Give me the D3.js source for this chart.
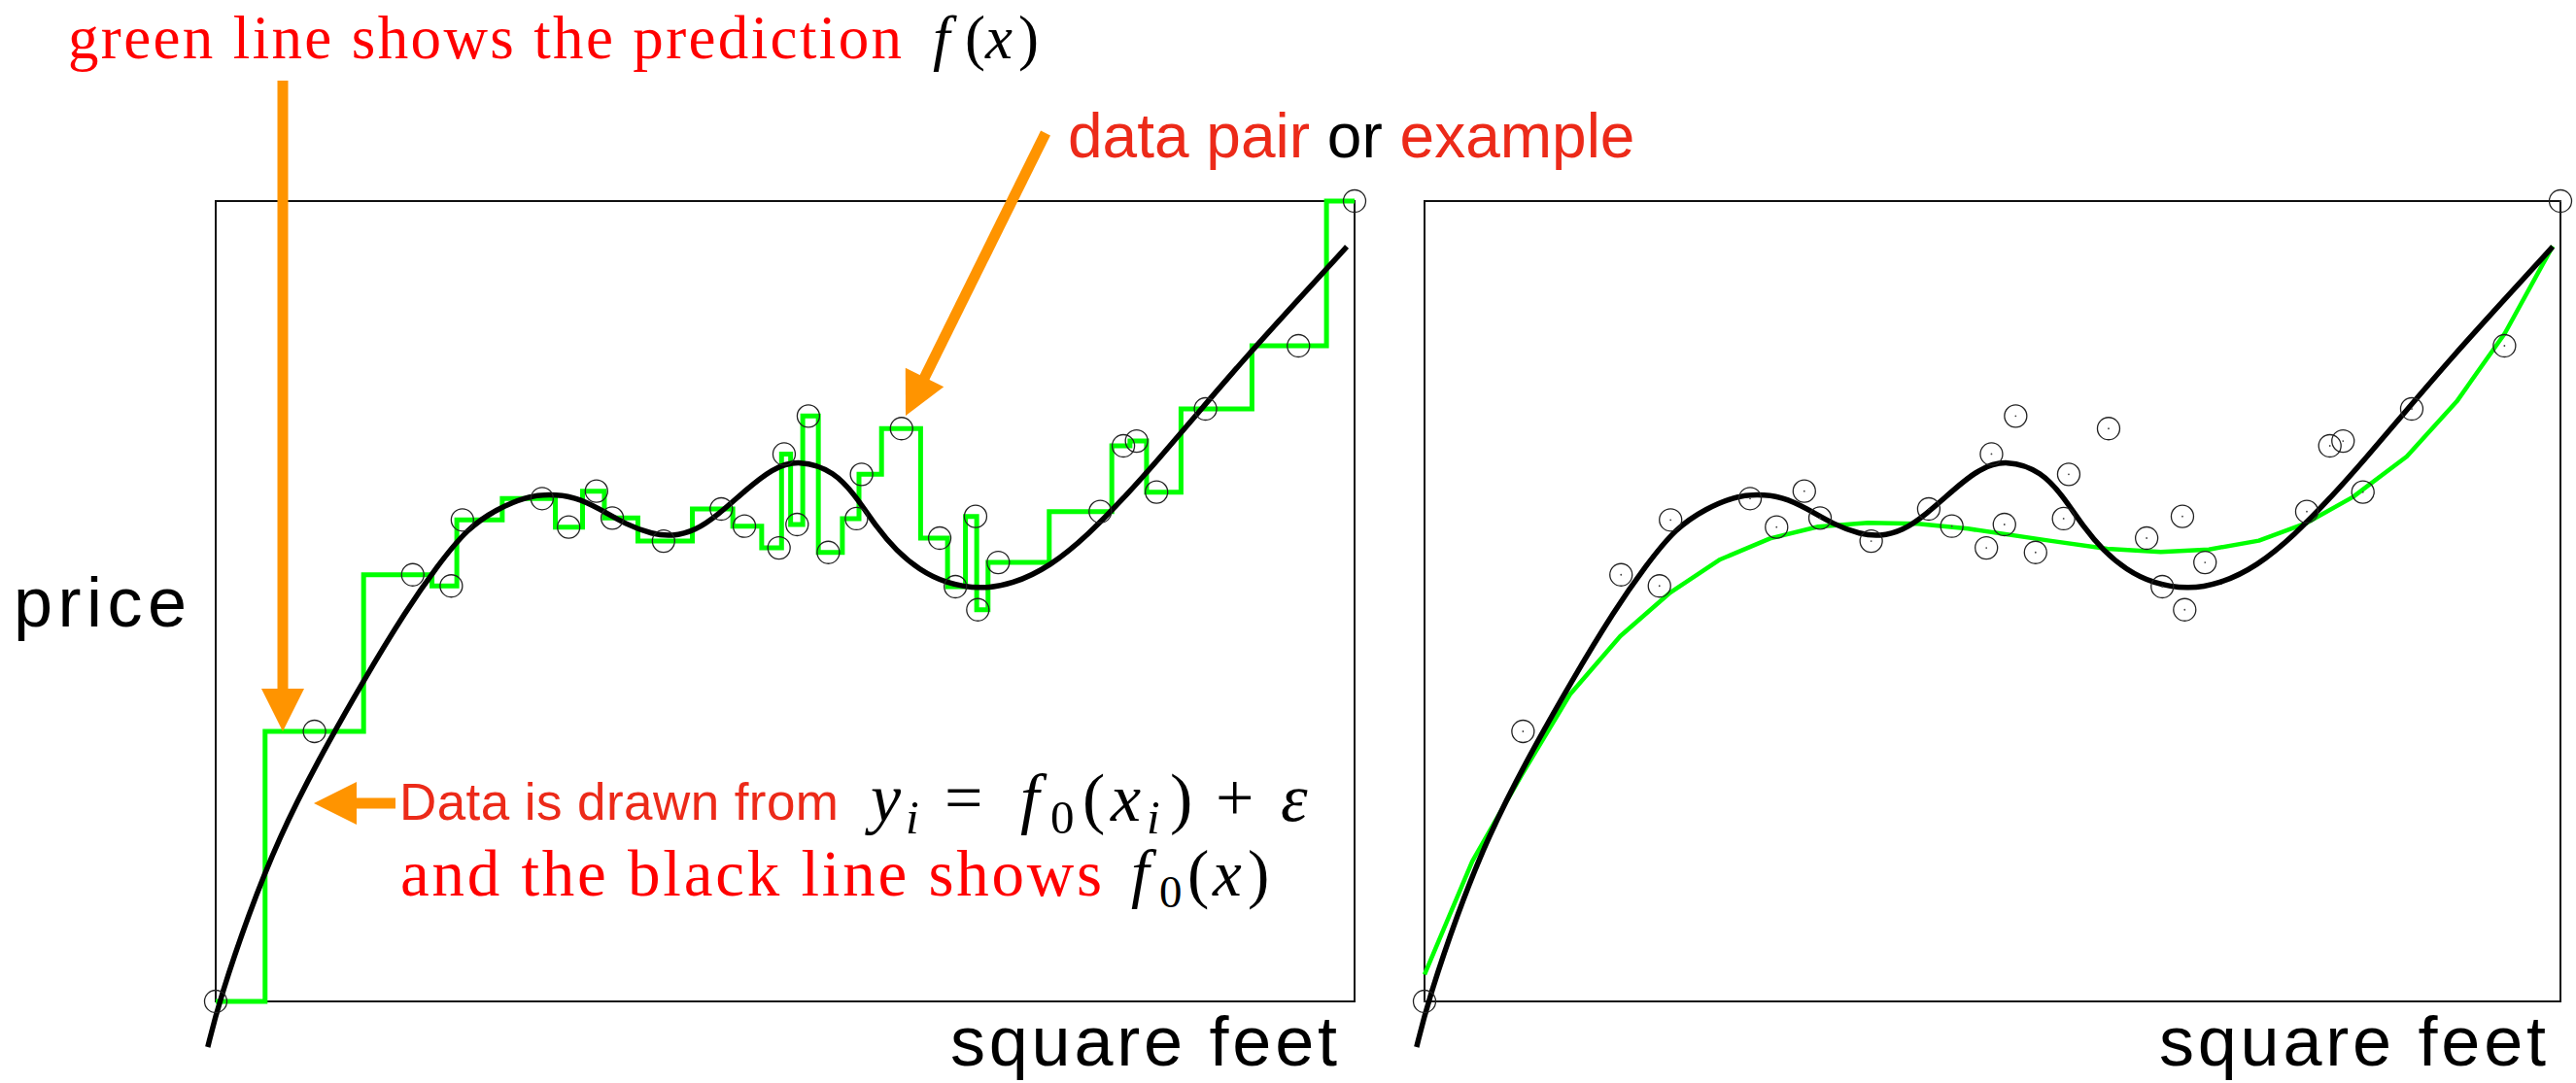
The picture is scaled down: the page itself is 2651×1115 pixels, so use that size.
<!DOCTYPE html>
<html>
<head>
<meta charset="utf-8">
<script src="https://cdn.jsdelivr.net/npm/d3@7"></script>
<style>
  body { margin: 0; background: #fff; }
  svg { display: block; }
</style>
</head>
<body>
<div id="chart"></div>
<script>
// Observed data pairs (square feet, price), both rescaled to 0..1 across the plot box.
const sqft = [0, 0.0867, 0.1730, 0.2068, 0.2166, 0.2866, 0.3099, 0.3343, 0.3482, 0.3932,
  0.4439, 0.4642, 0.4946, 0.4991, 0.5105, 0.5204, 0.5379, 0.5626, 0.5671, 0.6022,
  0.6357, 0.6495, 0.6672, 0.6692, 0.6871, 0.7767, 0.7970, 0.8086, 0.8261, 0.8691,
  0.9507, 1.0];
const price = [0, 0.3374, 0.5331, 0.5191, 0.6016, 0.6283, 0.5926, 0.6375, 0.6040, 0.5752,
  0.6153, 0.5938, 0.5667, 0.6839, 0.5959, 0.7314, 0.5610, 0.6032, 0.6586, 0.7157,
  0.5789, 0.5182, 0.6060, 0.4894, 0.5485, 0.6120, 0.6942, 0.7002, 0.6363, 0.7403,
  0.8192, 1.0];

// True function f0(x).
const trueX = [-0.007, 0.003, 0.0285, 0.0556, 0.0894, 0.130, 0.1672, 0.1942, 0.2213, 0.2483,
  0.2720, 0.2923, 0.3160, 0.3363, 0.3600, 0.3837, 0.4006, 0.4209, 0.4412, 0.4649,
  0.4885, 0.5120, 0.5434, 0.5636, 0.5806, 0.5974, 0.6178, 0.6414, 0.6719, 0.6989,
  0.7328, 0.7666, 0.7970, 0.8275, 0.8613, 0.9053, 0.9494, 0.9932];
const trueY = [-0.057, 0.0, 0.108, 0.205, 0.300, 0.4017, 0.4887, 0.5433, 0.5919, 0.6161,
  0.6303, 0.6340, 0.6303, 0.6161, 0.5959, 0.5837, 0.5810, 0.5878, 0.6080, 0.6383,
  0.6660, 0.6770, 0.6626, 0.6283, 0.5919, 0.5635, 0.5392, 0.5222, 0.5150, 0.5210,
  0.5433, 0.5837, 0.6283, 0.6768, 0.7334, 0.8062, 0.8750, 0.9430];

// Smooth prediction (right panel).
const fitX = [0, 0.042, 0.086, 0.128, 0.1723, 0.2163, 0.2603, 0.3042, 0.3465, 0.3904,
  0.4344, 0.4784, 0.5501, 0.6009, 0.6482, 0.6905, 0.7345, 0.7767, 0.8174, 0.8647,
  0.9087, 0.9510, 0.9932];
const fitY = [0.0336, 0.175, 0.284, 0.3835, 0.4563, 0.5109, 0.5522, 0.5785, 0.5931, 0.5979,
  0.5967, 0.5906, 0.5757, 0.5655, 0.5615, 0.5647, 0.5757, 0.5979, 0.6303, 0.6808,
  0.7496, 0.8346, 0.9438];

const W = 2651, H = 1115;
const ORANGE = "#ff9400", GREEN = "#00ff00";
const RED_SANS = "#ec2a19", RED_TEX = "#ff0000";

const points = sqft.map((x, i) => ({ x, y: price[i] }));
const truth = trueX.map((x, i) => ({ x, y: trueY[i] }));
const fit = fitX.map((x, i) => ({ x, y: fitY[i] }));

const svg = d3.select("#chart").append("svg")
  .attr("width", W)
  .attr("height", H);

const plotTop = 207, plotBottom = 1031;
const panels = [
  { left: 222, right: 1394, kind: "knn" },
  { left: 1466, right: 2635, kind: "smooth" }
];

panels.forEach(p => {
  const x = d3.scaleLinear().domain([0, 1]).range([p.left, p.right]);
  const y = d3.scaleLinear().domain([0, 1]).range([plotBottom, plotTop]);
  const g = svg.append("g");

  g.append("rect")
    .attr("x", x(0)).attr("y", y(1))
    .attr("width", x(1) - x(0)).attr("height", y(0) - y(1))
    .attr("fill", "none")
    .attr("stroke", "#111")
    .attr("stroke-width", 2);

  const line = d3.line().x(d => x(d.x)).y(d => y(d.y));

  if (p.kind === "knn") {
    // nearest-neighbour prediction: step halfway between neighbouring points
    g.append("path")
      .datum(points)
      .attr("fill", "none")
      .attr("stroke", GREEN)
      .attr("stroke-width", 5)
      .attr("d", line.curve(d3.curveStep));
  } else {
    g.append("path")
      .datum(fit)
      .attr("fill", "none")
      .attr("stroke", GREEN)
      .attr("stroke-width", 4.5)
      .attr("stroke-linejoin", "round")
      .attr("d", line.curve(d3.curveLinear));
  }

  g.append("path")
    .datum(truth)
    .attr("fill", "none")
    .attr("stroke", "#000")
    .attr("stroke-width", 5.5)
    .attr("d", d3.line().x(d => x(d.x)).y(d => y(d.y)).curve(d3.curveBasis));

  g.selectAll(".pt").data(points).enter()
    .append("circle")
    .attr("class", "pt")
    .attr("cx", d => x(d.x))
    .attr("cy", d => y(d.y))
    .attr("r", 11.5)
    .attr("fill", "none")
    .attr("stroke", "#222")
    .attr("stroke-width", 1.3);

  if (p.kind === "smooth") {
    g.selectAll(".dot").data(points).enter()
      .append("circle")
      .attr("class", "dot")
      .attr("cx", d => x(d.x))
      .attr("cy", d => y(d.y))
      .attr("r", 0.9)
      .attr("fill", "#444");
  }

  g.append("text")
    .attr("x", p.left + 756)
    .attr("y", 1097)
    .attr("font-family", "Liberation Sans, Arial, sans-serif")
    .attr("font-size", 72)
    .attr("textLength", 398)
    .attr("lengthAdjust", "spacing")
    .attr("fill", "#000")
    .text("square feet");
});

// y label
svg.append("text")
  .attr("x", 14).attr("y", 645)
  .attr("font-family", "Liberation Sans, Arial, sans-serif")
  .attr("font-size", 72)
  .attr("textLength", 178)
  .attr("lengthAdjust", "spacing")
  .text("price");

// ---- annotations ----
const serif = "Liberation Serif, Times New Roman, serif";
const sans = "Liberation Sans, Arial, sans-serif";

// math set as positioned pieces: [text, x, italic, subscript]
function math(parts, baseline, size) {
  parts.forEach(([s, px, it, sub]) => {
    svg.append("text")
      .attr("x", px)
      .attr("y", sub ? baseline + size * 0.18 : baseline)
      .attr("font-family", serif)
      .attr("font-style", it ? "italic" : "normal")
      .attr("font-size", sub ? size * 0.7 : size)
      .attr("fill", "#000")
      .text(s);
  });
}

svg.append("text")
  .attr("x", 70).attr("y", 60)
  .attr("font-family", serif)
  .attr("font-size", 63)
  .attr("fill", RED_TEX)
  .attr("textLength", 858)
  .attr("lengthAdjust", "spacing")
  .text("green line shows the prediction");
math([["f", 960, true], ["(", 993, false], ["x", 1014, true], [")", 1048, false]], 60, 63);

const dp = svg.append("text")
  .attr("x", 1099).attr("y", 162)
  .attr("font-family", sans)
  .attr("font-size", 64);
dp.append("tspan").attr("fill", RED_SANS).text("data pair ");
dp.append("tspan").attr("fill", "#000").text("or ");
dp.append("tspan").attr("fill", RED_SANS).text("example");

svg.append("text")
  .attr("x", 411).attr("y", 844)
  .attr("font-family", sans)
  .attr("font-size", 53)
  .attr("fill", RED_SANS)
  .attr("textLength", 452)
  .attr("lengthAdjust", "spacing")
  .text("Data is drawn from");
math([["y", 896, true], ["i", 932, true, true], ["=", 972, false], ["f", 1050, true],
  ["0", 1081, false, true], ["(", 1114, false], ["x", 1143, true], ["i", 1180, true, true],
  [")", 1204, false], ["+", 1251, false], ["ε", 1318, true]], 845, 70);

svg.append("text")
  .attr("x", 412).attr("y", 922)
  .attr("font-family", serif)
  .attr("font-size", 67)
  .attr("fill", RED_TEX)
  .attr("textLength", 722)
  .attr("lengthAdjust", "spacing")
  .text("and the black line shows");
math([["f", 1164, true], ["0", 1193, false, true], ["(", 1222, false], ["x", 1248, true],
  [")", 1284, false]], 922, 67);

// ---- orange arrows ----
function arrow(x1, y1, x2, y2) {
  // shaft from (x1,y1) to tip (x2,y2)
  const dx = x2 - x1, dy = y2 - y1, len = Math.hypot(dx, dy);
  const ux = dx / len, uy = dy / len, hl = 44, hw = 22;
  const bx = x2 - ux * hl, by = y2 - uy * hl;
  svg.append("line")
    .attr("x1", x1).attr("y1", y1).attr("x2", bx + ux * 2).attr("y2", by + uy * 2)
    .attr("stroke", ORANGE).attr("stroke-width", 11);
  svg.append("path")
    .attr("d", `M${x2},${y2}L${bx - uy * hw},${by + ux * hw}L${bx + uy * hw},${by - ux * hw}Z`)
    .attr("fill", ORANGE);
}
arrow(291, 83, 291, 753);
arrow(407, 827, 323, 827);
arrow(1076, 137, 932, 428);
</script>
</body>
</html>
